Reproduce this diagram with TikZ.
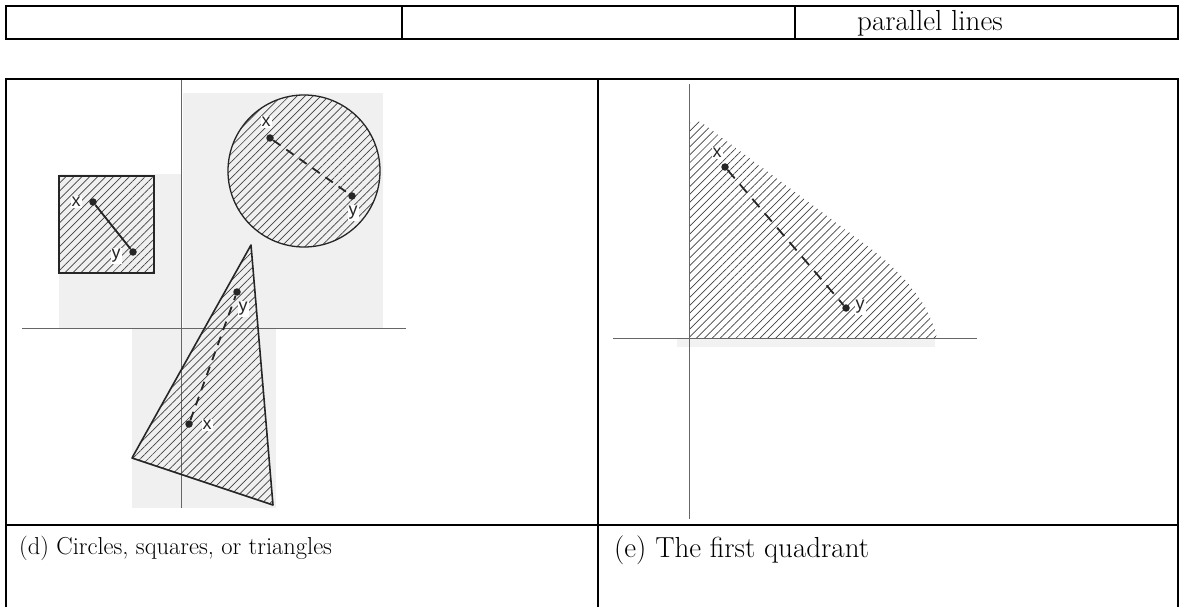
\documentclass[tikz,border=0pt]{standalone}
\usepackage{fontspec}
\newfontfamily\labfont{Liberation Sans}
\usetikzlibrary{patterns.meta}
\tikzset{
  tbl/.style={line width=1.8pt, line cap=rect},
  axline/.style={line width=0.8pt, draw=black!60},
  bg/.style={fill=black!6, draw=none},
  hatch/.style={pattern={Lines[angle=45,distance=5.6pt,line width=0.7pt]}, pattern color=black!75},
  dotpt/.style={circle, fill=black!85, inner sep=0pt, minimum size=7.5pt},
  lab/.style={font=\labfont\fontsize{18}{18}\selectfont, inner sep=1pt, fill=white, text=black!85},
  seg/.style={line width=1.8pt, draw=black!85},
  dsh/.style={seg, dash pattern=on 9pt off 7pt},
  captxt/.style={anchor=base west, inner sep=0pt},
}
\begin{document}
\begin{tikzpicture}[x=1pt,y=-1pt]
\useasboundingbox (0,0) rectangle (1184,607);
% ---------- top table ----------
\draw[tbl] (6,6) rectangle (1178,39);
\draw[tbl] (402,6) -- (402,39);
\draw[tbl] (795,6) -- (795,39);
\node[captxt, font=\fontsize{29}{34}\selectfont] (pl) at (857,31) {parallel lines};
% ---------- panel (d) ----------
\fill[bg] (183,93) rectangle (383,328);
\fill[bg] (59,174) rectangle (181,328);
\fill[bg] (132,328) rectangle (276,508);
\draw[axline] (181,79) -- (181,508);
\draw[axline] (22,328) -- (406,328);
% square
\draw[hatch, line width=1.6pt, draw=black!85] (59,176) rectangle (154,273);
\node[dotpt] (sx) at (93,202) {};
\node[dotpt] (sy) at (133,252) {};
\draw[seg] (sx) -- (sy);
\node[lab] (sxl) at (76,202) {x};
\node[lab] (syl) at (116,256) {y};
% circle
\draw[hatch, line width=1.3pt, draw=black!85] (304,171) circle (76);
\node[dotpt] (cx) at (270,138) {};
\node[dotpt] (cy) at (352,196) {};
\draw[dsh] (cx) -- (cy);
\node[lab] (cxl) at (266,122) {x};
\node[lab] (cyl) at (353,213) {y};
% triangle
\draw[hatch, line width=1.6pt, draw=black!85, line join=round] (251,245) -- (132,458) -- (273,505) -- cycle;
\node[dotpt] (ty) at (237,292) {};
\node[dotpt] (tx) at (189,424) {};
\draw[dsh] (tx) -- (ty);
\node[lab] (tyl) at (243,309) {y};
\node[lab] (txl) at (207,425) {x};
% ---------- panel (e) ----------
\fill[black!5] (677,339) rectangle (935,347);
\fill[hatch] (689,338) -- (689,128) .. controls (689,119) and (697,119) .. (705,125)
   -- (870,248) .. controls (905,275) and (930,305) .. (937,338) -- cycle;
\draw[axline] (689,84) -- (689,519);
\draw[axline] (613,338) -- (977,338);
\node[dotpt] (qx) at (725,167) {};
\node[dotpt] (qy) at (846,308) {};
\draw[seg, dash pattern=on 11pt off 8pt] (qx) -- (qy);
\node[lab] (qxl) at (717,153) {x};
\node[lab] (qyl) at (860,307) {y};
% ---------- lower table ----------
\draw[tbl] (6,607) -- (6,79) -- (1178,79) -- (1178,607);
\draw[tbl] (598,79) -- (598,607);
\draw[tbl] (6,525) -- (1178,525);
\node[captxt, font=\fontsize{24.5}{29}\selectfont] (capd) at (19,554) {(d) Circles, squares, or triangles};
\node[captxt, font=\fontsize{29}{34}\selectfont] (cape) at (614,557) {(e) The first quadrant};
\end{tikzpicture}
\end{document}
